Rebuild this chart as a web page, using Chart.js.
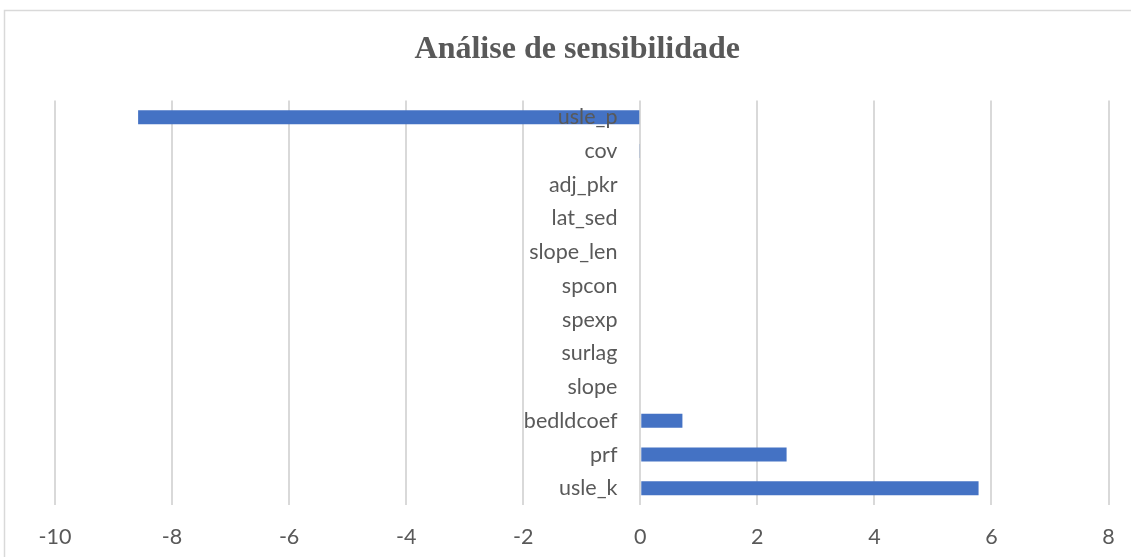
<!DOCTYPE html>
<html>
<head>
<meta charset="utf-8">
<script src="https://cdn.jsdelivr.net/npm/chart.js@4/dist/chart.umd.min.js"></script>
<style>
  html, body { margin: 0; padding: 0; background: #ffffff; }
  canvas { display: block; }
</style>
</head>
<body>
<canvas id="c" width="1131" height="557"></canvas>
<script>
const titleText = 'Análise de sensibilidade';
const categories = ['usle_p', 'cov', 'adj_pkr', 'lat_sed', 'slope_len', 'spcon', 'spexp', 'surlag', 'slope', 'bedldcoef', 'prf', 'usle_k'];
const sensitivity = [-8.58, -0.02, 0, 0, 0, 0, 0, 0, 0, 0.72, 2.50, 5.78];
const xMin = -10;
const xMax = 8;
const xStep = 2;

const frame = {
  id: 'frame',
  beforeDraw(chart) {
    const ctx = chart.ctx;
    ctx.save();
    ctx.fillStyle = '#ffffff';
    ctx.fillRect(0, 0, chart.width, chart.height);
    ctx.strokeStyle = '#d9d9d9';
    ctx.lineWidth = 1.5;
    ctx.beginPath();
    ctx.moveTo(4.5, chart.height);
    ctx.lineTo(4.5, 10.5);
    ctx.lineTo(chart.width, 10.5);
    ctx.stroke();
    ctx.restore();
  }
};

new Chart(document.getElementById('c'), {
  type: 'bar',
  data: {
    labels: categories,
    datasets: [{
      data: sensitivity,
      backgroundColor: '#4472c4',
      borderWidth: 0,
      inflateAmount: 0,
      barThickness: 14
    }]
  },
  options: {
    indexAxis: 'y',
    responsive: false,
    animation: false,
    layout: { padding: { left: 46, right: 22.5, top: 0, bottom: -12 } },
    plugins: {
      legend: { display: false },
      tooltip: { enabled: false },
      title: {
        display: true,
        text: titleText,
        color: '#595959',
        font: { family: 'Liberation Serif', size: 32, weight: 'bold' },
        padding: { top: 31, bottom: 31 }
      }
    },
    scales: {
      x: {
        min: xMin,
        max: xMax,
        afterFit(s) { s.paddingLeft = 55; s.paddingRight = 0; },
        ticks: {
          stepSize: xStep,
          color: '#595959',
          font: { family: 'Lato', size: 21.5 },
          padding: 19,
          maxRotation: 0
        },
        grid: { color: '#d9d9d9', lineWidth: 2, drawTicks: false },
        border: { display: false }
      },
      y: {
        position: { x: -0.39 },
        afterFit(s) { s.paddingTop = 0; s.paddingBottom = 0; },
        ticks: {
          z: 1,
          color: '#595959',
          font: { family: 'Lato', size: 21.5 },
          autoSkip: false
        },
        grid: { display: false, drawTicks: false },
        border: { display: false }
      }
    }
  },
  plugins: [frame]
});
</script>
</body>
</html>
